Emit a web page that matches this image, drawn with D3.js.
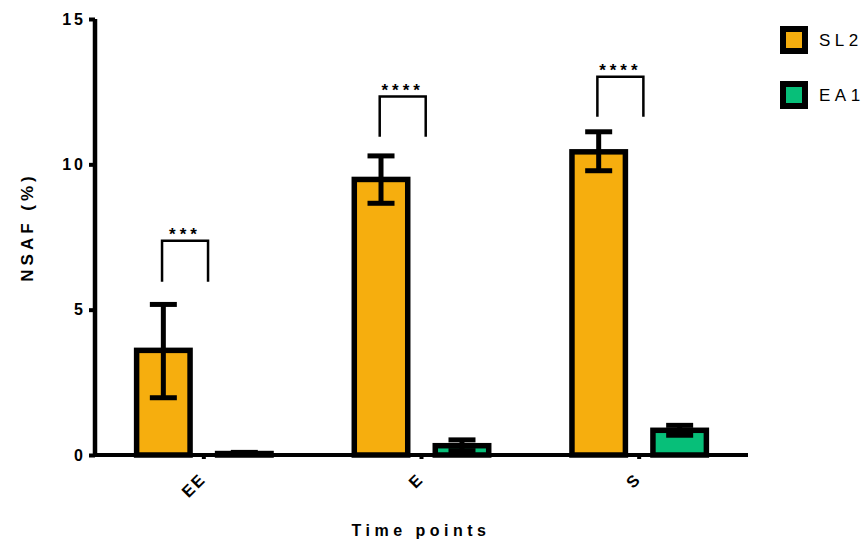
<!DOCTYPE html>
<html><head><meta charset="utf-8">
<script src="https://cdn.jsdelivr.net/npm/d3@7"></script>
<style>body{margin:0;background:#fff}svg{display:block}text{font-family:"Liberation Sans",Arial,sans-serif}</style>
</head><body><svg id="c" width="866" height="545"></svg>
<script>
const categories = ["EE", "E", "S"];
const series = ["SL2", "EA1"];
const colors = ["#F6AE0E", "#07BF79"];
const sl2Mean = [3.6, 9.48, 10.43];
const sl2Low = [1.97, 8.66, 9.78];
const sl2High = [5.18, 10.29, 11.12];
const ea1Mean = [0.05, 0.32, 0.85];
const ea1Low = [0.02, 0.15, 0.68];
const ea1High = [0.09, 0.52, 1.02];
const yTicks = [0, 5, 10, 15];
const sigLabels = ["***", "****", "****"];
const sigTop = [7.37, 12.33, 13.01];
const sigBottom = [5.96, 10.95, 11.64];

const svg = d3.select("#c");
const x = d3.scaleBand().domain(categories).range([95, 748]);
const xs = d3.scaleBand().domain(series).range([0, x.bandwidth()]).paddingInner(0.34).paddingOuter(0.514);
const y = d3.scaleLinear().domain([0, 15]).range([455, 19]);

const means = [sl2Mean, ea1Mean], lows = [sl2Low, ea1Low], highs = [sl2High, ea1High];
const bars = [];
series.forEach((s, si) => categories.forEach((c, ci) => bars.push({c, s, si, m: means[si][ci], lo: lows[si][ci], hi: highs[si][ci]})));

const g = svg.append("g");
g.selectAll("rect.bar").data(bars).join("rect").attr("class", "bar")
  .attr("x", d => x(d.c) + xs(d.s))
  .attr("width", xs.bandwidth())
  .attr("y", d => y(d.m))
  .attr("height", d => y(0) - y(d.m))
  .attr("fill", d => colors[d.si]).attr("stroke", "#000").attr("stroke-width", 5.5);

const cx = d => x(d.c) + xs(d.s) + xs.bandwidth() / 2;
const capW = 27;
g.selectAll("line.ev").data(bars).join("line").attr("class", "ev")
  .attr("x1", cx).attr("x2", cx).attr("y1", d => y(d.lo)).attr("y2", d => y(d.hi))
  .attr("stroke", "#000").attr("stroke-width", 5);
g.selectAll("line.cap").data(bars.flatMap(d => [{d, v: d.lo}, {d, v: d.hi}])).join("line").attr("class", "cap")
  .attr("x1", e => cx(e.d) - capW / 2).attr("x2", e => cx(e.d) + capW / 2)
  .attr("y1", e => y(e.v)).attr("y2", e => y(e.v))
  .attr("stroke", "#000").attr("stroke-width", 5);

// axes
const yAxis = d3.axisLeft(y).tickValues(yTicks).tickSize(6).tickSizeOuter(0).tickPadding(6);
const ya = svg.append("g").attr("transform", "translate(95,0)").call(yAxis);
ya.select(".domain").attr("stroke-width", 4.5).attr("d", `M0,${y(0)+2}V${y(15)}`);
ya.selectAll(".tick line").attr("stroke-width", 4);
ya.selectAll(".tick text").attr("font-size", 16).attr("font-weight", "bold")
  .attr("letter-spacing", 3).attr("fill", "#000").attr("dx", 3).attr("font-family", '"Liberation Sans",Arial,sans-serif');

const xAxis = d3.axisBottom(x).tickSize(4).tickSizeOuter(0).tickFormat("");
const xa = svg.append("g").attr("transform", `translate(0,${y(0)})`).call(xAxis);
xa.select(".domain").attr("stroke-width", 4).attr("d", "M93,0H748");
xa.selectAll(".tick line").attr("stroke-width", 4);

svg.append("g").selectAll("text").data(categories).join("text")
  .attr("transform", d => `translate(${x(d) + x.bandwidth() / 2 - 1},${y(0) + 21}) rotate(-45)`)
  .attr("text-anchor", "end").attr("dy", "0.35em")
  .attr("font-size", 16.5).attr("font-weight", "bold").attr("letter-spacing", 2).text(d => d);

// significance brackets
const sig = categories.map((c, i) => ({c, i}));
const bl = d => x(d.c) + xs("SL2") + xs.bandwidth() / 2 - 1.3;
svg.append("g").selectAll("path").data(sig).join("path")
  .attr("d", d => `M${bl(d)},${y(sigBottom[d.i])}V${y(sigTop[d.i])}H${bl(d) + 46}V${y(sigBottom[d.i])}`)
  .attr("fill", "none").attr("stroke", "#000").attr("stroke-width", 2.5);
svg.append("g").selectAll("text").data(sig).join("text")
  .attr("x", d => bl(d) + 23).attr("y", d => y(sigTop[d.i]) - 1)
  .attr("text-anchor", "middle").attr("font-size", 17).attr("font-weight", "bold").attr("letter-spacing", 4)
  .text(d => sigLabels[d.i]);

// axis titles
svg.append("text").attr("transform", "translate(32.5,227) rotate(-90)").attr("text-anchor", "middle")
  .attr("font-size", 17).attr("font-weight", "bold").attr("letter-spacing", 4).text("NSAF (%)");
svg.append("text").attr("x", 421).attr("y", 536).attr("text-anchor", "middle")
  .attr("font-size", 16).attr("font-weight", "bold").attr("letter-spacing", 4.5).text("Time points");

// legend
const lg = svg.append("g").selectAll("g").data(series).join("g")
  .attr("transform", (d, i) => `translate(783,${29 + i * 55})`);
lg.append("rect").attr("width", 22).attr("height", 22)
  .attr("fill", (d, i) => colors[i]).attr("stroke", "#000").attr("stroke-width", 6);
lg.append("text").attr("x", 36).attr("y", 11).attr("dy", "0.35em")
  .attr("font-size", 17).attr("letter-spacing", 4.5).text(d => d);
</script></body></html>
